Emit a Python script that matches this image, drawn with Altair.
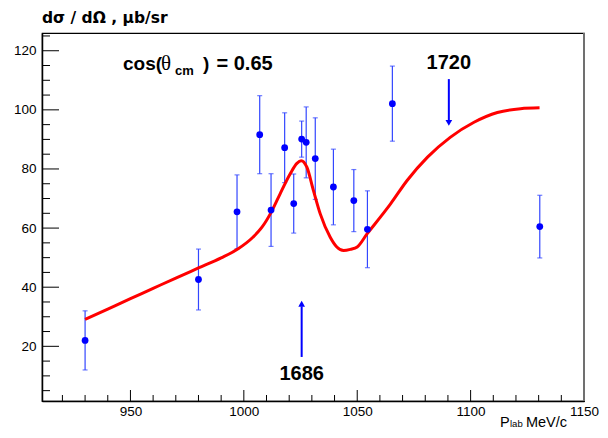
import altair as alt
import pandas as pd

# ---- data ----
p_lab = [930, 980, 997, 1007, 1012, 1018, 1022, 1025.5, 1027.5, 1031.5, 1039.5, 1048.5, 1054.5, 1065.5, 1130.5]
dsig = [22, 42.6, 65.5, 91.6, 66.1, 87.2, 68.3, 90.1, 89, 83.5, 73.9, 69.3, 59.6, 102.1, 60.5]
dsig_err = [10, 10.3, 12.5, 13.2, 12.3, 11.8, 10, 6.1, 12, 13.8, 12.8, 10.5, 13, 12.7, 10.6]

curve_x = [930, 940, 950, 960, 970, 980, 990, 997.5, 1004, 1008, 1012.5, 1016, 1020.4, 1023.4,
           1025.3, 1027.8, 1030.7, 1033.7, 1038.1, 1041, 1044, 1047, 1050, 1054.4, 1060.2, 1064.7,
           1072, 1081, 1091, 1101.5, 1111.8, 1122, 1130.4]
curve_y = [29.1, 32.6, 36.1, 39.6, 43.1, 46.5, 49.9, 53, 56.9, 60.3, 66, 71.6, 78.3, 81.9,
           82.8, 80.6, 72.7, 64.8, 56.9, 53.6, 52.4, 52.8, 53.6, 58.1, 63.7, 68.2,
           76.1, 84, 90.7, 95.8, 99.1, 100.4, 100.7]

arrow_x = [1090.4, 1025.5]
arrow_from = [110.4, 16.4]
arrow_to = [96.5, 33.5]
arrow_head = [95.6, 34.4]
arrow_dir = ["triangle-down", "triangle-up"]
arrow_label = ["1720", "1686"]
arrow_label_y = [116, 10.8]

x_major = [950, 1000, 1050, 1100, 1150]
x_minor = [v for v in range(920, 1150, 10) if v not in x_major]
y_major = [20, 40, 60, 80, 100, 120]
y_minor = [v for v in range(5, 126, 5) if v not in y_major]

# ---- tables ----
pts = pd.DataFrame({"x": p_lab, "y": dsig,
                    "lo": [a - b for a, b in zip(dsig, dsig_err)],
                    "hi": [a + b for a, b in zip(dsig, dsig_err)]})
curve = pd.DataFrame({"x": curve_x, "y": curve_y})
arrows = pd.DataFrame({"x": arrow_x, "y": arrow_from, "y2": arrow_to, "head": arrow_head,
                       "shape": arrow_dir, "label": arrow_label, "ly": arrow_label_y})

W, H = 542, 368
FONT = "Liberation Sans"
SERIF = "Liberation Serif"

xs = alt.Scale(domain=[911, 1150], nice=False, zero=False)
ys = alt.Scale(domain=[1.5, 126], nice=False, zero=False)
xaxis = alt.Axis(values=x_major, tickSize=0, grid=False, title=None, labelFontSize=13.5,
                 labelFont=FONT, labelColor="black", labelPadding=3, labelFlush=False,
                 labelOverlap=False, domainColor="black", domainWidth=1.5, format="d")
yaxis = alt.Axis(values=y_major, tickSize=0, grid=False, title=None, labelFontSize=13.5,
                 labelFont=FONT, labelColor="black", labelPadding=6, labelFlush=False,
                 labelOverlap=False, domainColor="black", domainWidth=1.5, format="d")


def X(field="x"):
    return alt.X(f"{field}:Q", scale=xs, axis=xaxis)


def Y(field="y"):
    return alt.Y(f"{field}:Q", scale=ys, axis=yaxis)


BLUE = "#0000ff"
EBLUE = "#3347ff"

errbars = alt.Chart(pts).mark_rule(color=EBLUE, strokeWidth=1.2).encode(
    x=X(), y=Y("lo"), y2="hi:Q")
caps_lo = alt.Chart(pts).mark_tick(color=EBLUE, orient="horizontal", size=5, thickness=1.2).encode(
    x=X(), y=Y("lo"))
caps_hi = alt.Chart(pts).mark_tick(color=EBLUE, orient="horizontal", size=5, thickness=1.2).encode(
    x=X(), y=Y("hi"))
points = alt.Chart(pts).mark_circle(color=BLUE, size=46, opacity=1).encode(x=X(), y=Y())

line = alt.Chart(curve).mark_line(color="#ff0000", strokeWidth=3, interpolate="monotone").encode(
    x=X(), y=Y())

arrow_shafts = alt.Chart(arrows).mark_rule(color=BLUE, strokeWidth=2).encode(
    x=X(), y=Y(), y2="y2:Q")
arrow_heads = alt.Chart(arrows).mark_point(filled=True, color=BLUE, size=45, opacity=1).encode(
    x=X(), y=Y("head"), shape=alt.Shape("shape:N", scale=None, legend=None))
arrow_text = alt.Chart(arrows).mark_text(font=FONT, fontSize=20, fontWeight="bold", color="black",
                                         baseline="middle", align="center").encode(
    x=X(), y=Y("ly"), text="label:N")

xt_major = alt.Chart(pd.DataFrame({"x": x_major})).mark_rule(color="black", strokeWidth=1).encode(
    x=X(), y=alt.value(H), y2=alt.value(H - 11))
xt_minor = alt.Chart(pd.DataFrame({"x": x_minor})).mark_rule(color="black", strokeWidth=1).encode(
    x=X(), y=alt.value(H), y2=alt.value(H - 6))
yt_major = alt.Chart(pd.DataFrame({"y": y_major})).mark_rule(color="black", strokeWidth=1).encode(
    y=Y(), x=alt.value(0), x2=alt.value(17))
yt_minor = alt.Chart(pd.DataFrame({"y": y_minor})).mark_rule(color="black", strokeWidth=1).encode(
    y=Y(), x=alt.value(0), x2=alt.value(8))

right_frame = alt.Chart(pd.DataFrame({"k": [0]})).mark_rule(color="#707070", strokeWidth=2).encode(
    x=alt.value(W), y=alt.value(0), y2=alt.value(H))


def label(text, x, y, size, weight="normal", align="left", font=FONT):
    return alt.Chart(pd.DataFrame({"t": [text]})).mark_text(
        font=font, fontSize=size, fontWeight=weight, color="black", align=align,
        baseline="alphabetic").encode(x=alt.value(x), y=alt.value(y), text="t:N")


# y-axis title
title = label("dσ / dΩ ,  μb/sr", 0, -10, 15.5, "bold", font="DejaVu Sans")

# cos(θcm ) = 0.65
cos_parts = [
    label("cos(", 81, 37, 19, "bold"),
    label("θ", 119, 37, 21, "normal", font=SERIF),
    label("cm", 133, 42, 13, "bold"),
    label(")", 161, 37, 19, "bold"),
    label("= 0.65", 174.5, 37, 20, "bold"),
]

# x-axis title: P_lab MeV/c  (kept clear of the "1150" label and of the bottom edge)
xlab_parts = [
    label("P", 458, 393.5, 14.5),
    label("lab", 468, 394, 9.5),
    label("MeV/c", 525, 393.5, 14.5, align="right"),
]

chart = alt.layer(
    xt_major, xt_minor, yt_major, yt_minor, right_frame,
    errbars, caps_lo, caps_hi, line, points,
    arrow_shafts, arrow_heads, arrow_text,
    title, *cos_parts, *xlab_parts,
).properties(
    width=W, height=H,
    padding={"left": 34, "top": 25, "right": 16, "bottom": 29},
    autosize=alt.AutoSizeParams(type="none"),
    background="white",
).configure_view(stroke="black", strokeWidth=1.2)

chart.save("out.html", embed_options={"renderer": "svg", "actions": False})
